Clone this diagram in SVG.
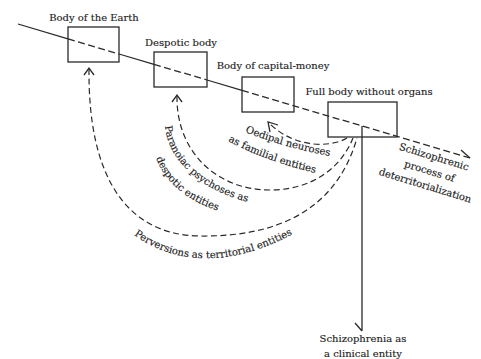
<svg xmlns="http://www.w3.org/2000/svg" width="481" height="359" viewBox="0 0 481 359">
<style>
.ln{fill:none;stroke:#2a2a2a;stroke-width:1.3}
.ds{fill:none;stroke:#2a2a2a;stroke-width:1.3;stroke-dasharray:7 3.5}
.cv{fill:none;stroke:#2a2a2a;stroke-width:1.2;stroke-dasharray:6 3.5}
.bx{fill:none;stroke:#2a2a2a;stroke-width:1.3}
text{font-family:"DejaVu Serif","Liberation Serif",serif;font-size:10px;fill:#222;stroke:#222;stroke-width:0.15}
.c{text-anchor:middle}
</style>
<defs>
<path id="tp1" d="M245,132 Q288,149 336,157"/>
<path id="tp2" d="M228,141 Q270,163 320,174"/>
<path id="tp3" d="M165,126 C168,162 205,196 264,205"/>
<path id="tp4" d="M156,158 C167,188 200,211 244,216"/>
<path id="tp5" d="M134,235 Q205,285 304,228"/>
</defs>
<g id="connectors">
<path class="ln" d="M18,24 L68,38.8 M119,54 L154,64.3 M207,80 L242,90.4"/>
<path class="ds" d="M68,38.8 L119,54 M154,64.3 L207,80 M242,90.4 L470,158"/>
<path class="ln" d="M461,150 L470,158"/>
<path class="ln" d="M362,126 L362,331 M355,323 L362,331"/>
<path class="cv" d="M89,69 C88,175 125,235 200,236 C270,237 335,215 357,138"/>
<path class="ln" d="M84,75 L89,68 L94,75"/>
<path class="cv" d="M177,96 C176,150 215,190 270,190 C310,190 340,170 353,138"/>
<path class="ln" d="M172,102 L177,95 L182,102"/>
<path class="cv" d="M347,138 C330,148 295,148 270,124"/>
<path class="ln" d="M278,125 L268,122 L270,132"/>
</g>
<g id="earth"><rect class="bx" x="68" y="27" width="51" height="35"/><text class="c" x="94" y="21">Body of the Earth</text></g>
<g id="despotic"><rect class="bx" x="154" y="52" width="53" height="35"/><text class="c" x="181" y="46">Despotic body</text></g>
<g id="capital"><rect class="bx" x="242" y="77" width="52" height="35"/><text class="c" x="273" y="69">Body of capital-money</text></g>
<g id="bwo"><rect class="bx" x="328" y="102" width="69" height="35"/><text class="c" x="369" y="95">Full body without organs</text></g>
<g id="schizo-process"><g transform="translate(433,160) rotate(17)"><text class="c" x="0" y="0">Schizophrenic</text><text class="c" x="0" y="15">process of</text><text class="c" x="0" y="30">deterritorialization</text></g></g>
<g id="schizo-clinical"><text class="c" x="363" y="342">Schizophrenia as</text><text class="c" x="363" y="357">a clinical entity</text></g>
<g id="oedipal"><text><textPath href="#tp1">Oedipal neuroses</textPath></text><text><textPath href="#tp2">as familial entities</textPath></text></g>
<g id="paranoiac"><text><textPath href="#tp3">Paranoiac psychoses as</textPath></text><text><textPath href="#tp4">despotic entities</textPath></text></g>
<g id="perversions"><text><textPath href="#tp5">Perversions as territorial entities</textPath></text></g>
</svg>
